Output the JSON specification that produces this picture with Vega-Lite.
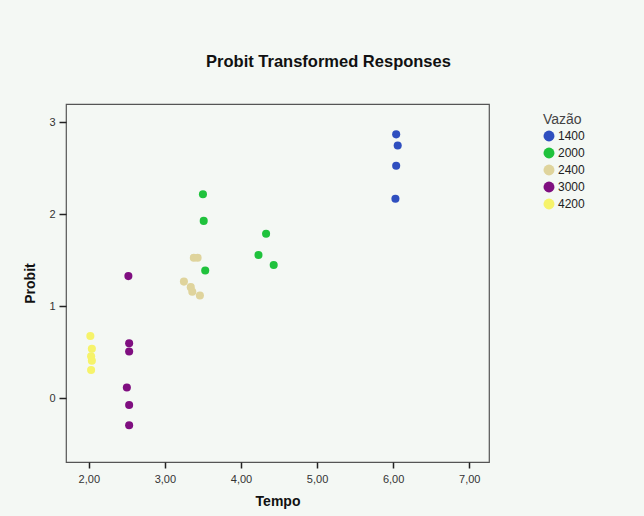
{
  "$schema": "https://vega.github.io/schema/vega-lite/v6.json",
  "width": 423,
  "height": 358,
  "autosize": "none",
  "padding": {"left": 66, "top": 104, "right": 155, "bottom": 54},
  "background": "#f4f8f4",
  "title": {
    "text": "Probit Transformed Responses",
    "font": "Liberation Sans",
    "fontSize": 16.5,
    "fontWeight": "bold",
    "color": "#111111",
    "anchor": "middle",
    "dx": 51,
    "offset": 34
  },
  "config": {
    "view": {"stroke": "#555555", "strokeWidth": 1.2},
    "font": "Liberation Sans"
  },
  "data": {
    "values": [
      {"Tempo": 6.04, "Probit": 2.87, "Vazao": "1400"},
      {"Tempo": 6.06, "Probit": 2.75, "Vazao": "1400"},
      {"Tempo": 6.04, "Probit": 2.53, "Vazao": "1400"},
      {"Tempo": 6.03, "Probit": 2.17, "Vazao": "1400"},
      {"Tempo": 3.50, "Probit": 2.22, "Vazao": "2000"},
      {"Tempo": 3.51, "Probit": 1.93, "Vazao": "2000"},
      {"Tempo": 3.53, "Probit": 1.39, "Vazao": "2000"},
      {"Tempo": 4.33, "Probit": 1.79, "Vazao": "2000"},
      {"Tempo": 4.23, "Probit": 1.56, "Vazao": "2000"},
      {"Tempo": 4.43, "Probit": 1.45, "Vazao": "2000"},
      {"Tempo": 3.38, "Probit": 1.53, "Vazao": "2400"},
      {"Tempo": 3.43, "Probit": 1.53, "Vazao": "2400"},
      {"Tempo": 3.25, "Probit": 1.27, "Vazao": "2400"},
      {"Tempo": 3.34, "Probit": 1.21, "Vazao": "2400"},
      {"Tempo": 3.36, "Probit": 1.16, "Vazao": "2400"},
      {"Tempo": 3.46, "Probit": 1.12, "Vazao": "2400"},
      {"Tempo": 2.52, "Probit": 1.33, "Vazao": "3000"},
      {"Tempo": 2.53, "Probit": 0.60, "Vazao": "3000"},
      {"Tempo": 2.53, "Probit": 0.51, "Vazao": "3000"},
      {"Tempo": 2.50, "Probit": 0.12, "Vazao": "3000"},
      {"Tempo": 2.53, "Probit": -0.07, "Vazao": "3000"},
      {"Tempo": 2.53, "Probit": -0.29, "Vazao": "3000"},
      {"Tempo": 2.02, "Probit": 0.68, "Vazao": "4200"},
      {"Tempo": 2.04, "Probit": 0.54, "Vazao": "4200"},
      {"Tempo": 2.03, "Probit": 0.46, "Vazao": "4200"},
      {"Tempo": 2.04, "Probit": 0.41, "Vazao": "4200"},
      {"Tempo": 2.03, "Probit": 0.31, "Vazao": "4200"}
    ]
  },
  "mark": {"type": "point", "filled": true, "opacity": 1, "size": 65},
  "encoding": {
    "x": {
      "field": "Tempo",
      "type": "quantitative",
      "scale": {"domain": [1.7, 7.26], "nice": false, "zero": false},
      "axis": {
        "title": "Tempo",
        "values": [2, 3, 4, 5, 6, 7],
        "format": ".2f",
        "labelExpr": "replace(datum.label, '.', ',')",
        "grid": false,
        "domain": false,
        "tickColor": "#222222",
        "tickSize": 6,
        "tickWidth": 1.5,
        "labelFontSize": 11,
        "labelColor": "#333333",
        "labelPadding": 5,
        "titleFontSize": 14,
        "titleFontWeight": "bold",
        "titleColor": "#111111",
        "titlePadding": 10
      }
    },
    "y": {
      "field": "Probit",
      "type": "quantitative",
      "scale": {"domain": [-0.69, 3.2], "nice": false, "zero": false},
      "axis": {
        "title": "Probit",
        "values": [0, 1, 2, 3],
        "format": "d",
        "grid": false,
        "domain": false,
        "tickColor": "#222222",
        "tickSize": 7,
        "tickWidth": 1.5,
        "labelFontSize": 11,
        "labelColor": "#333333",
        "labelPadding": 4,
        "titleFontSize": 14,
        "titleFontWeight": "bold",
        "titleColor": "#111111",
        "titlePadding": 11
      }
    },
    "color": {
      "field": "Vazao",
      "type": "nominal",
      "scale": {
        "domain": ["1400", "2000", "2400", "3000", "4200"],
        "range": ["#2f4fbf", "#1fc23c", "#dfd49c", "#7f0f80", "#f6f36a"]
      },
      "legend": {
        "title": "Vazão",
        "orient": "none",
        "legendX": 477,
        "legendY": 9,
        "titleFont": "Liberation Sans",
        "titleFontSize": 14,
        "titleFontWeight": "normal",
        "titleColor": "#444444",
        "labelFontSize": 12,
        "labelColor": "#222222",
        "symbolSize": 120,
        "symbolType": "circle",
        "symbolStrokeWidth": 0,
        "rowPadding": 5,
        "labelOffset": 3,
        "titlePadding": 3
      }
    }
  }
}
